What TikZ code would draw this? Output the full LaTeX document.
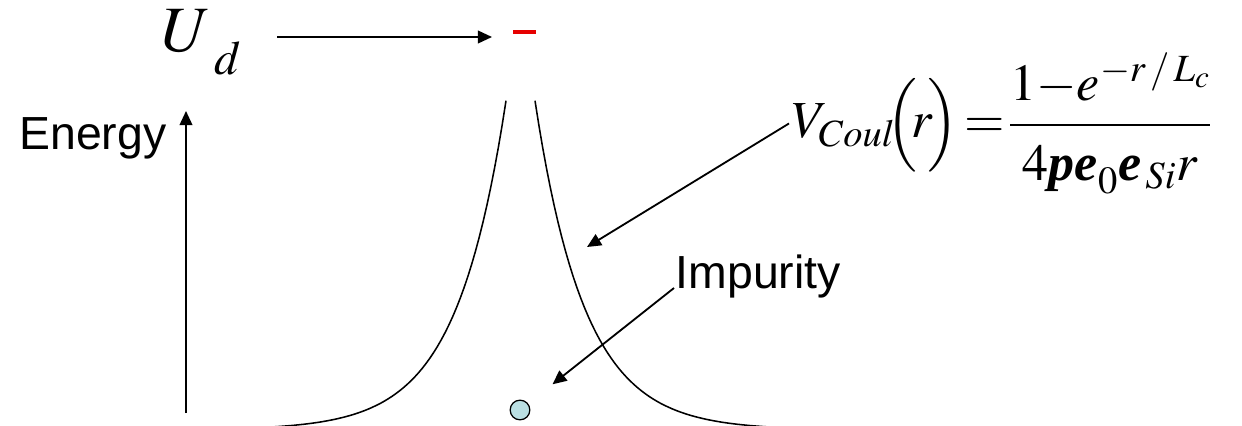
\documentclass[tikz,border=0pt]{standalone}
\usepackage{amsmath}
\usepackage{mathptmx}
\usepackage{fontspec}
\setmainfont{Liberation Serif}
\setsansfont{Liberation Sans}
\usetikzlibrary{arrows.meta}
\definecolor{impcyan}{RGB}{187,224,227}
\definecolor{elecred}{RGB}{230,0,0}

\begin{document}
\begin{tikzpicture}[
    x=0.025cm, y=-0.025cm,
    lbl/.style={
        font=\sffamily\fontsize{33}{38}\selectfont,
        inner sep=1pt
    },
    mathlbl/.style={
        font=\fontsize{37}{45}\selectfont,
        inner sep=2pt
    },
    arr/.style={
        -{Triangle[length=10pt,width=9pt]},
        line width=1.3pt
    },
    curve/.style={
        line width=1.1pt,
        samples=80
    }
]
\useasboundingbox (0,0) rectangle (1242,426);

% EJE DE ENERGIA
\coordinate (axbot) at (186,413);
\coordinate (axtop) at (186,111);
\draw[arr] (axbot) -- (axtop);
\node[lbl, anchor=base east] (energy) at (168,150) {Energy};

% POTENCIAL (dos ramas)
\draw[curve] plot[domain=14.5:315] ({520.5-\x},{430-440*exp(-\x/50)});
\draw[curve] plot[domain=14.5:315] ({520.5+\x},{430-440*exp(-\x/50)});

% NIVEL U_d
\node[font=\fontsize{46}{52}\selectfont, anchor=base west, inner sep=1pt] (ud) at (160,52)
{$U_{\mkern4mu\raisebox{-9pt}{$\scriptstyle d$}}$};
\node[fill=elecred, minimum width=16pt, minimum height=2.2pt, inner sep=0pt] (elec) at (524.5,32) {};
\coordinate (ustart) at (277,37);
\coordinate (utip) at (492,37);
\draw[arr] (ustart) -- (utip);

% IMPUREZA
\node[circle, draw, line width=0.9pt, fill=impcyan, minimum size=14pt, inner sep=0pt] (imp) at (520,410) {};
\node[lbl, anchor=base west] (implbl) at (674,288) {Impurity};
\draw[arr, shorten >=22pt] (implbl.base west) -- (imp);

% FORMULA
\node[mathlbl, anchor=base west] (coul) at (789,138)
{$\nulldelimiterspace=0pt V_{Coul}\mkern-3mu\Bigl(\!r\!\Bigr)\mkern2mu\mathord{=}\mkern2mu{\dfrac{1\mathord{-}e^{-r\,/\,L_c}\rule[-12pt]{0pt}{0pt}}{\rule{0pt}{34pt}4\textbf{\textit{pe}}_0\textbf{\textit{e}}_{\,Si}r}}$};
\coordinate (vtip) at (587,247);
\draw[arr] (coul.west) -- (vtip);

\end{tikzpicture}
\end{document}
